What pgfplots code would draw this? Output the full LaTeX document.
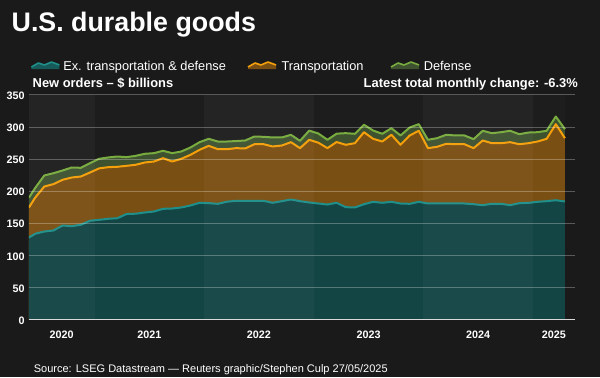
\documentclass[border=0pt]{standalone}
\usepackage{pgfplots}
\pgfplotsset{compat=1.18}
\usepackage{pgfplotstable}
\usepackage{fontspec}
\setmainfont{Liberation Sans}
\definecolor{pagebg}{HTML}{1A1A1A}
\definecolor{darkband}{HTML}{1D1D1D}
\definecolor{tealfill}{HTML}{134545}
\definecolor{tealline}{HTML}{1E8F8A}
\definecolor{orangefill}{HTML}{7A4F14}
\definecolor{orangeline}{HTML}{F5A00A}
\definecolor{greenfill}{HTML}{3E5230}
\definecolor{greenline}{HTML}{78AC3E}
\definecolor{axisgray}{HTML}{D9D9D9}

% x = month index (Jan 2020 = 0), points at mid-month; ex = ex. transportation & defense,
% tr = cumulative top of transportation, tot = total (incl. defense), $ billions
\pgfplotstableread{
x     ex     tr     tot
4.82  128.0  174.7  190.0
5.5   133.8  190.0  205.0
6.5   137.3  207.3  224.5
7.5   138.9  211.0  228.0
8.5   146.7  217.8  232.2
9.5   145.6  221.3  236.9
10.5  147.8  222.9  236.4
11.5  154.0  229.1  243.6
12.5  155.5  235.5  250.4
13.5  157.1  237.4  252.5
14.5  158.0  238.0  254.0
15.5  164.5  239.5  253.0
16.5  165.0  241.1  255.0
17.5  166.9  244.7  258.2
18.5  168.4  246.2  259.2
19.5  172.6  251.4  262.9
20.5  173.1  246.2  259.2
21.5  174.7  250.4  261.8
22.5  177.8  256.6  268.0
23.5  182.0  264.4  276.3
24.5  181.4  270.6  281.5
25.5  180.4  265.4  277.3
26.5  183.7  265.4  277.3
27.5  185.1  267.0  278.0
28.5  185.1  266.5  278.9
29.5  185.1  273.1  285.1
30.5  185.1  273.1  284.6
31.5  182.0  269.6  283.6
32.5  184.5  271.1  283.6
33.5  187.1  276.3  287.7
34.5  184.5  267.0  278.4
35.5  182.5  280.0  294.2
36.5  180.9  275.5  289.8
37.5  179.3  267.0  280.0
38.5  182.0  276.5  289.5
39.5  175.2  272.2  290.3
40.5  174.7  274.7  289.3
41.5  179.8  291.8  303.3
42.5  183.5  281.5  294.4
43.5  182.0  277.3  289.3
44.5  183.5  287.8  298.0
45.5  180.9  272.2  286.7
46.5  180.4  286.7  299.1
47.5  183.5  294.0  304.3
48.5  180.9  267.0  280.0
49.5  180.9  269.1  282.5
50.5  180.9  273.8  287.8
51.5  180.9  273.1  286.7
52.5  180.9  273.1  286.7
53.5  179.8  267.0  281.0
54.5  178.3  278.9  294.0
55.5  180.4  274.7  290.3
56.5  180.4  274.7  291.8
57.5  178.3  276.3  294.0
58.5  181.4  273.1  288.7
59.5  181.9  274.7  291.3
60.5  183.5  277.3  291.8
61.5  184.5  281.5  294.0
62.5  186.0  304.3  316.2
63.5  184.0  282.5  296.5
}\data

\begin{document}
\begin{tikzpicture}[x=1bp,y=1bp]
\fill[pagebg] (0,0) rectangle (600,377);
\begin{axis}[
  at={(31.7,89)}, anchor=south west, scale only axis,
  width=546.3bp, height=225bp,
  xmin=4.82, xmax=64.63, ymin=0, ymax=350,
  axis x line*=bottom, axis y line*=left,
  x axis line style={draw=axisgray, line width=1.2bp, -},
  y axis line style={draw=none},
  axis on top,
  /pgf/number format/assume math mode=true,
  xtick={8.41,18,30,42,54,62.3},
  xticklabels={2020,2021,2022,2023,2024,2025},
  xtick style={draw=none},
  extra x ticks={12,24,36,48,60},
  extra x tick labels={},
  extra x tick style={tick style={draw=axisgray, line width=1bp}, major tick length=6bp, tick align=outside},
  ytick={0,50,...,350},
  ytick style={draw=none},
  ymajorgrids,
  grid style={white, opacity=0.28, line width=0.8bp},
  xticklabel style={font=\bfseries\fontsize{10.8bp}{12bp}\selectfont, text=white, anchor=base, inner sep=0pt, yshift=-18.9bp},
  yticklabel style={font=\bfseries\fontsize{10.8bp}{12bp}\selectfont, text=white, anchor=east, inner sep=0pt, xshift=-4.2bp, yshift=-0.8bp},
]
\fill[darkband] (axis cs:4.82,0) rectangle (axis cs:63.5,350);
\addplot[draw=none, fill=greenfill] table[x=x,y=tot]{\data} \closedcycle;
\addplot[draw=none, fill=orangefill] table[x=x,y=tr]{\data} \closedcycle;
\addplot[draw=none, fill=tealfill] table[x=x,y=ex]{\data} \closedcycle;
\addplot[greenline, line width=2bp, line join=round, mark=none] table[x=x,y=tot]{\data};
\addplot[orangeline, line width=2bp, line join=round, mark=none] table[x=x,y=tr]{\data};
\addplot[tealline, line width=2bp, line join=round, mark=none] table[x=x,y=ex]{\data};
\fill[white, opacity=0.03] (axis cs:4.82,0) rectangle (axis cs:12,350);
\fill[white, opacity=0.03] (axis cs:24,0) rectangle (axis cs:36,350);
\fill[white, opacity=0.03] (axis cs:48,0) rectangle (axis cs:60,350);
\end{axis}

% title
\node[anchor=base west, inner sep=0pt, text=white, font=\bfseries\fontsize{26.8bp}{32bp}\selectfont] at (11.5,345.3) {U.S. durable goods};

% legend
\begin{scope}[shift={(31.4,308)}]
  \fill[tealfill!70!tealline] (0,0) -- (0,2) -- (7,6) -- (13,4) -- (20,7) -- (28,4) -- (28,0) -- cycle;
  \draw[tealline, line width=1.6bp, line join=round] (0,2) -- (7,6) -- (13,4) -- (20,7) -- (28,4);
\end{scope}
\node[anchor=base west, inner sep=0pt, text=white, font=\fontsize{12.8bp}{15bp}\selectfont] at (63.1,307) {Ex. transportation \& defense};
\begin{scope}[shift={(248,308)}]
  \fill[orangefill] (0,0) -- (0,2) -- (7,6) -- (13,4) -- (20,7) -- (28,4) -- (28,0) -- cycle;
  \draw[orangeline, line width=1.6bp, line join=round] (0,2) -- (7,6) -- (13,4) -- (20,7) -- (28,4);
\end{scope}
\node[anchor=base west, inner sep=0pt, text=white, font=\fontsize{12.8bp}{15bp}\selectfont] at (281.3,307) {Transportation};
\begin{scope}[shift={(391,308)}]
  \fill[greenfill] (0,0) -- (0,2) -- (7,6) -- (13,4) -- (20,7) -- (28,4) -- (28,0) -- cycle;
  \draw[greenline, line width=1.6bp, line join=round] (0,2) -- (7,6) -- (13,4) -- (20,7) -- (28,4);
\end{scope}
\node[anchor=base west, inner sep=0pt, text=white, font=\fontsize{12.8bp}{15bp}\selectfont] at (423.6,307) {Defense};

% subtitles
\node[anchor=base west, inner sep=0pt, text=white, font=\bfseries\fontsize{12.9bp}{15bp}\selectfont] at (32.5,289.5) {New orders -- \$ billions};
\node[anchor=base east, inner sep=0pt, text=white, font=\bfseries\fontsize{12.9bp}{15bp}\selectfont] at (578,289.5) {Latest total monthly change: -6.3\%};

% source
\node[anchor=base west, inner sep=0pt, text=white, font=\fontsize{11bp}{13bp}\selectfont] at (33.7,4.8) {Source: LSEG Datastream --- Reuters graphic/Stephen Culp 27/05/2025};
\end{tikzpicture}
\end{document}
